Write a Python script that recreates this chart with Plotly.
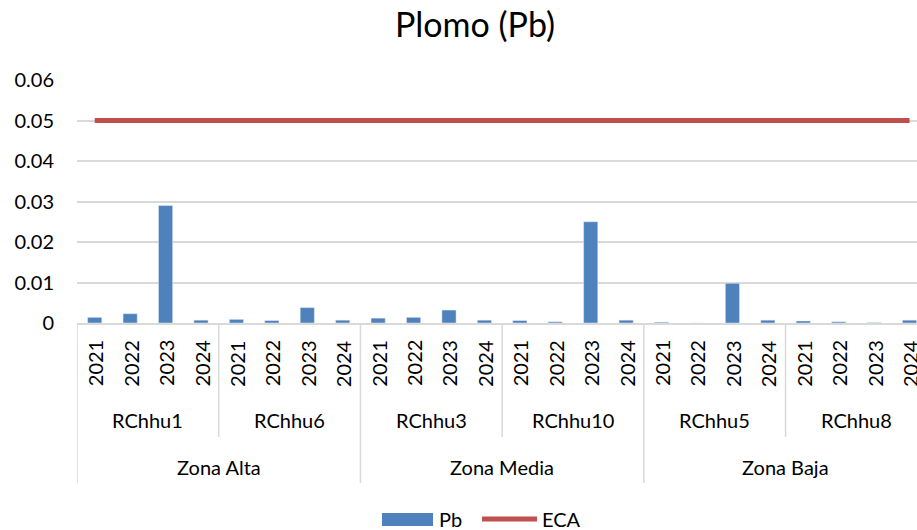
import plotly.graph_objects as go

# ---- data ----
zones = ["Zona Alta", "Zona Media", "Zona Baja"]
stations = ["RChhu1", "RChhu6", "RChhu3", "RChhu10", "RChhu5", "RChhu8"]
years = ["2021", "2022", "2023", "2024"]
pb = [0.0014, 0.0023, 0.029, 0.0007,
      0.0009, 0.0006, 0.0038, 0.0007,
      0.0012, 0.0014, 0.0032, 0.0007,
      0.0006, 0.0003, 0.025, 0.0007,
      0.0002, 0.0, 0.0098, 0.0007,
      0.0005, 0.0003, 0.0001, 0.0007]
eca = [0.05] * 24
y_ticks = [0, 0.01, 0.02, 0.03, 0.04, 0.05, 0.06]
y_tick_text = ["0", "0.01", "0.02", "0.03", "0.04", "0.05", "0.06"]

FONT = "Lato"
BLUE = "#4F81BD"
RED = "#C0504D"
GRID = "#D9D9D9"

n = len(pb)
xs = list(range(n))
per_station = len(years)
per_zone = len(stations) // len(zones) * per_station

fig = go.Figure()
fig.add_trace(go.Bar(x=xs, y=pb, name="Pb", marker_color=BLUE, width=0.4,
                     showlegend=False))
fig.add_trace(go.Scatter(x=xs, y=eca, name="ECA", mode="lines",
                         line=dict(color=RED, width=5), showlegend=False))

annotations = []
shapes = []
# year labels
for i in xs:
    annotations.append(dict(x=i, y=0, xref="x", yref="paper", yshift=-40.5,
                            text=years[i % per_station], textangle=-90,
                            showarrow=False, xanchor="center", yanchor="middle",
                            font=dict(family=FONT, size=20, color="#000")))
# station labels
for s, name in enumerate(stations):
    c = s * per_station + (per_station - 1) / 2
    annotations.append(dict(x=c, y=0, xref="x", yref="paper", yshift=-97,
                            text=name, showarrow=False, xanchor="center",
                            yanchor="middle",
                            font=dict(family=FONT, size=20, color="#000")))
# zone labels
for z, name in enumerate(zones):
    c = z * per_zone + (per_zone - 1) / 2
    annotations.append(dict(x=c, y=0, xref="x", yref="paper", yshift=-144,
                            text=name, showarrow=False, xanchor="center",
                            yanchor="middle",
                            font=dict(family=FONT, size=20, color="#000")))

plot_h = 243
st_low = -(437 - 323) / plot_h
zn_low = -(483 - 323) / plot_h
for s in range(len(stations) + 1):
    b = s * per_station - 0.5
    is_zone = (s * per_station) % per_zone == 0
    shapes.append(dict(type="line", xref="x", yref="paper", x0=b, x1=b,
                       y0=0, y1=zn_low if is_zone else st_low,
                       line=dict(color=GRID, width=1.5)))

# legend (custom)
shapes.append(dict(type="rect", xref="paper", yref="paper",
                   x0=(382 - 77) / 840, x1=(433 - 77) / 840,
                   y0=(323 - 526) / plot_h, y1=(323 - 513) / plot_h,
                   fillcolor=BLUE, line=dict(width=0)))
shapes.append(dict(type="line", xref="paper", yref="paper",
                   x0=(482 - 77) / 840, x1=(537 - 77) / 840,
                   y0=(323 - 519) / plot_h, y1=(323 - 519) / plot_h,
                   line=dict(color=RED, width=5)))
annotations.append(dict(x=(437 - 77) / 840, y=(323 - 519) / plot_h, xref="paper",
                        yref="paper", text="Pb", showarrow=False, xanchor="left",
                        yanchor="middle", font=dict(family=FONT, size=20, color="#000")))
annotations.append(dict(x=(540 - 77) / 840, y=(323 - 519) / plot_h, xref="paper",
                        yref="paper", text="ECA", showarrow=False, xanchor="left",
                        yanchor="middle", font=dict(family=FONT, size=20, color="#000")))

fig.update_layout(
    width=917, height=530,
    margin=dict(l=77, r=0, t=80, b=207),
    paper_bgcolor="white", plot_bgcolor="white",
    title=dict(text="Plomo (Pb)", x=475 / 917, xref="container", xanchor="center",
               y=1 - 25 / 530, yref="container", yanchor="middle",
               font=dict(family=FONT, size=34, color="#000")),
    xaxis=dict(range=[-0.5, 23.21], showticklabels=False, showgrid=False,
               zeroline=False, showline=True, linecolor=GRID, linewidth=1.5,
               ticks=""),
    yaxis=dict(range=[0, 0.06], tickvals=y_ticks, ticktext=y_tick_text,
               showgrid=True, gridcolor=GRID, gridwidth=1.5, zeroline=False,
               showline=False, ticks="", ticklabelstandoff=22,
               tickfont=dict(family=FONT, size=20, color="#000")),
    annotations=annotations, shapes=shapes, bargap=0.6,
)

fig.write_html("out.html", config={"displayModeBar": False},
               post_script="document.body.style.margin='0';document.body.style.overflow='hidden';")
